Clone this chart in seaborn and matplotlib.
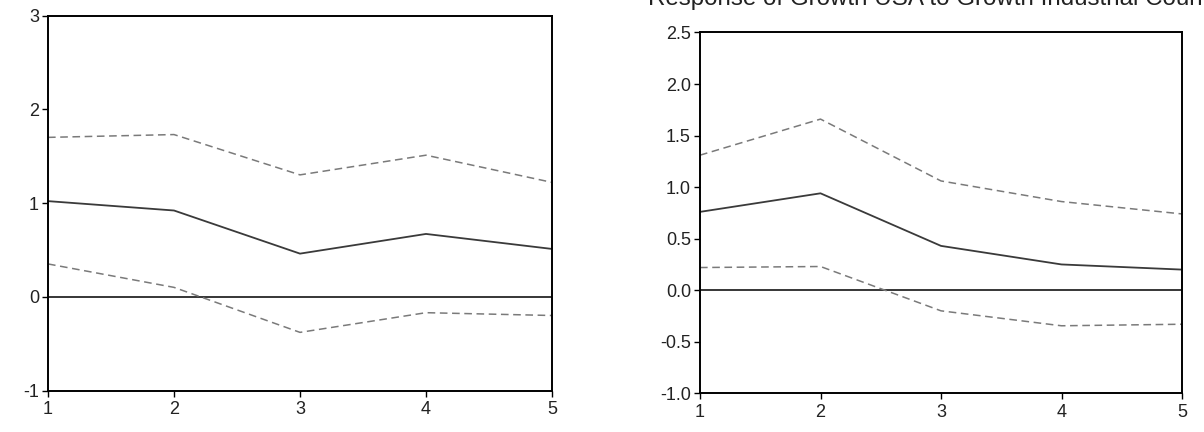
import matplotlib
matplotlib.use("Agg")
import matplotlib.pyplot as plt
import seaborn as sns
import pandas as pd

periods = [1, 2, 3, 4, 5]

left_response = [1.02, 0.92, 0.46, 0.67, 0.51]
left_upper = [1.70, 1.73, 1.30, 1.51, 1.22]
left_lower = [0.35, 0.10, -0.38, -0.17, -0.20]

right_response = [0.76, 0.94, 0.43, 0.25, 0.20]
right_upper = [1.31, 1.66, 1.06, 0.86, 0.74]
right_lower = [0.22, 0.23, -0.20, -0.345, -0.33]

left_yticks = [-1, 0, 1, 2, 3]
right_yticks = [-1.0, -0.5, 0.0, 0.5, 1.0, 1.5, 2.0, 2.5]
title_right = "Response of Growth USA to Growth Industrial Countries"

sns.set_theme(style="white")
plt.rcParams['font.family'] = ['Liberation Sans', 'DejaVu Sans']

fig = plt.figure(figsize=(12.04, 4.32), dpi=100)
ax1 = fig.add_axes([48/1204, 1-390.5/432, (552-48)/1204, (390.5-15.5)/432])
ax2 = fig.add_axes([700/1204, 1-393.3/432, (1182-700)/1204, (393.3-32.5)/432])


def draw(ax, resp, up, lo, yticks, fmt):
    df = pd.DataFrame({"period": periods, "resp": resp, "up": up, "lo": lo})
    ax.axhline(0, color="black", lw=1.1, zorder=1)
    sns.lineplot(data=df, x="period", y="up", ax=ax, color="#7a7a7a", lw=1.1,
                 linestyle=(0, (5, 3)))
    sns.lineplot(data=df, x="period", y="lo", ax=ax, color="#7a7a7a", lw=1.1,
                 linestyle=(0, (5, 3)))
    sns.lineplot(data=df, x="period", y="resp", ax=ax, color="#3a3a3a", lw=1.3)
    ax.set_xlim(periods[0], periods[-1])
    ax.set_ylim(yticks[0], yticks[-1])
    ax.set_xticks(periods)
    ax.set_xticklabels([str(p) for p in periods])
    ax.set_yticks(yticks)
    ax.set_yticklabels([fmt.format(t) for t in yticks])
    ax.set_xlabel("")
    ax.set_ylabel("")
    for s in ax.spines.values():
        s.set_color("black")
        s.set_linewidth(1.4)
    ax.tick_params(axis="both", which="both", direction="out", length=4, width=1,
                   color="black", labelsize=13, labelcolor="#222222",
                   bottom=True, left=True)
    ax.tick_params(axis="x", pad=3.5)
    ax.tick_params(axis="y", pad=2.5)


draw(ax1, left_response, left_upper, left_lower, left_yticks, "{:.0f}")
draw(ax2, right_response, right_upper, right_lower, right_yticks, "{:.1f}")

fig.text(648/1204, 1-4.5/432, title_right, ha="left", va="baseline",
         fontsize=17.4, color="#222222")

fig.savefig("out.png", dpi=100)
